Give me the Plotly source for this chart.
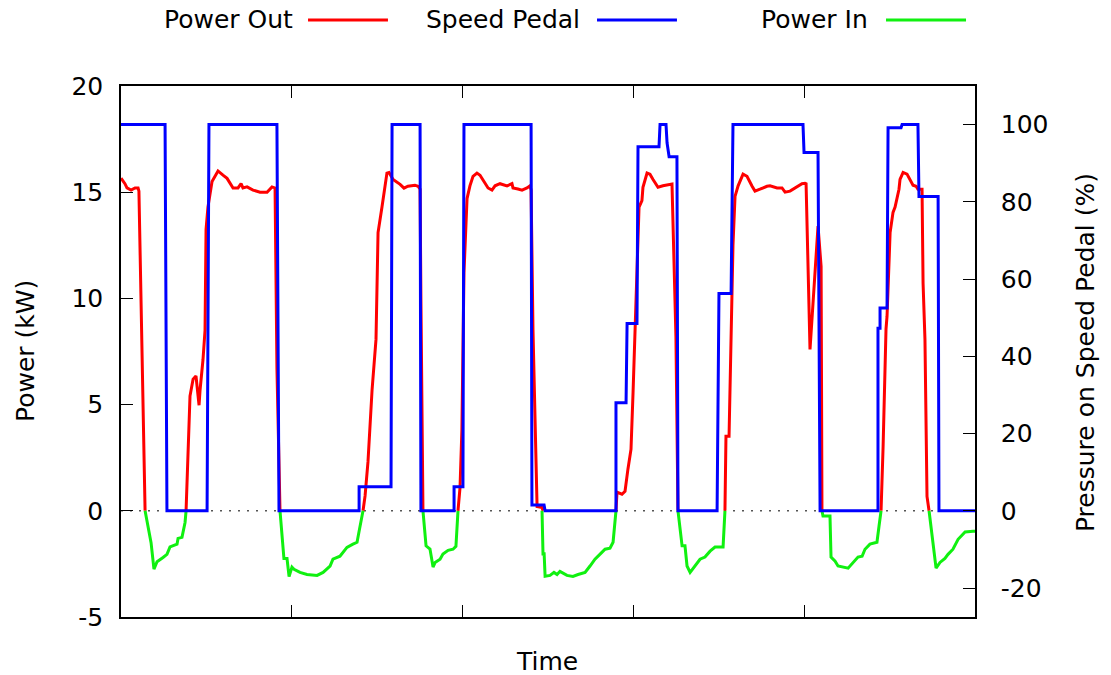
import plotly.graph_objects as go

# ---------------- data (time in s, power in kW, pedal in %) ----------------
out_t = [0, 2.3, 3.5, 5.9, 8.2, 10.0, 10.5, 12.3, 14.1, None,
         38.1, 39.2, 40.4, 42.2, 43.9, 45.7, 46.3, 48.0, 49.2, 49.8, 50.9, 53.3, 55.6, 56.8,
         59.7, 62.1, 65.6, 68.5, 70.3, 71.4, 73.8, 77.3, 81.4, 85.5, 88.4, 90.2, 91.3, 93.1, None,
         141.7, 142.9, 144.6, 147.0, 149.3, 150.5, 152.8, 154.6, 155.7, 156.9, 157.5, 159.3,
         163.4, 165.7, 168.0, 172.1, 173.9, 175.1, 175.6, 176.8, None,
         197.3, 198.5, 199.6, 200.2, 200.8, 202.6, 204.3, 206.1, 208.4, 210.2, 212.5, 214.9,
         217.2, 219.0, 221.9, 226.0, 228.9, 229.5, 232.4, 234.8, 237.7, 239.5, 240.1, 241.2,
         243.6, 246.5, 247.1, None,
         289.8, 290.4, 293.3, 295.1, 296.8, 298.6, 299.8, 300.9, 302.1, 303.3, 305.0, 305.6,
         308.0, 309.7, 311.5, 314.4, 317.3, 319.7, 322.6, 324.9, 326.1, None,
         353.6, 354.2, 356.0, 357.2, 357.7, 358.3, 359.5, 361.3, 364.2, 366.5, 369.5, 371.2,
         374.1, 378.2, 380.0, 384.1, 387.0, 388.8, 391.7, 395.8, 398.7, 400.5, 401.1, 403.4,
         408.1, 409.9, 410.4, None,
         445.0, 446.2, 447.9, 448.5, 450.3, 452.0, 453.2, 454.4, 455.5, 456.1, 457.9, 460.2,
         462.0, 463.7, 465.5, 466.6, 469.0, 469.6, 470.7, 471.9, 473.1]
out_kw = [15.66, 15.4, 15.2, 15.1, 15.2, 15.2, 15.05, 8.07, 0, None,
          0, 2.3, 5.4, 6.2, 6.35, 4.97, 5.7, 7.1, 8.5, 13.25, 14.3, 15.5, 15.8, 16.0,
          15.8, 15.65, 15.2, 15.2, 15.4, 15.2, 15.25, 15.1, 15.0, 15.0, 15.25, 15.2, 6.7, 0, None,
          0, 0.7, 2.3, 5.7, 8.07, 13.1, 14.3, 15.3, 15.9, 15.93, 15.85, 15.6,
          15.37, 15.19, 15.28, 15.33, 15.28, 15.14, 9.96, 0, None,
          0, 1.1, 3.85, 8.55, 11.2, 14.7, 15.3, 15.75, 15.9, 15.8, 15.5, 15.2,
          15.1, 15.3, 15.4, 15.3, 15.4, 15.2, 15.15, 15.1, 15.2, 15.3, 15.1, 8.55,
          0.2, 0.15, 0, None,
          0, 0.88, 0.78, 0.92, 1.96, 2.9, 5.58, 8.55, 12.17, 14.3, 14.6, 15.23,
          15.9, 15.85, 15.6, 15.23, 15.3, 15.33, 15.38, 8.2, 0, None,
          0, 3.51, 3.51, 8.55, 10.3, 12.5, 14.8, 15.3, 15.85, 15.75, 15.28, 15.05,
          15.14, 15.28, 15.3, 15.2, 15.2, 15.0, 15.05, 15.28, 15.4, 15.42, 15.4, 7.6,
          13.4, 11.5, 0, None,
          0, 3.04, 8.55, 9.16, 13.1, 14.05, 14.3, 14.75, 15.14, 15.6, 15.93, 15.85,
          15.6, 15.33, 15.28, 15.14, 15.14, 10.7, 8.07, 0.68, 0]

in_t = [14.1, 17.6, 19.3, 21.1, 24.6, 26.9, 28.7, 32.8, 33.4, 35.7, 37.5, 38.1, None,
        93.1, 94.9, 95.4, 97.2, 98.4, 100.1, 101.3, 104.8, 108.9, 114.8, 118.3, 122.4,
        124.1, 128.2, 132.3, 135.8, 138.2, 139.4, 141.7, None,
        176.8, 178.6, 180.9, 182.7, 183.9, 186.8, 188.5, 191.5, 194.4, 196.1, 197.3, None,
        246.5, 247.1, 247.7, 248.3, 251.2, 253.5, 255.3, 257.0, 261.1, 264.6, 267.6, 271.7,
        274.6, 277.5, 280.5, 283.4, 286.3, 288.1, 289.8, None,
        326.1, 328.5, 330.2, 331.4, 333.2, 336.1, 339.0, 341.9, 344.9, 347.8, 352.5, 353.6, None,
        410.4, 411.0, 415.1, 415.7, 418.1, 419.8, 425.7, 428.6, 431.5, 433.9, 435.6, 438.5,
        442.6, 443.8, 445.0, None,
        473.1, 477.2, 479.5, 482.4, 484.2, 487.1, 490.1, 494.2, 498.8, 500]
in_kw = [0, -1.5, -2.75, -2.4, -2.2, -2.05, -1.7, -1.57, -1.3, -1.25, -0.55, 0, None,
         0, -1.5, -2.25, -2.25, -3.1, -2.65, -2.75, -2.9, -3.0, -3.04, -2.9, -2.6,
         -2.28, -2.14, -1.72, -1.57, -1.48, -0.96, 0, None,
         0, -1.65, -1.8, -2.65, -2.43, -2.28, -2.04, -1.86, -1.81, -1.67, 0, None,
         0, -2.1, -1.95, -3.08, -3.04, -2.9, -3.0, -2.85, -3.04, -3.09, -3.0, -2.9,
         -2.6, -2.28, -2.04, -1.81, -1.76, -1.48, 0, None,
         0, -1.65, -1.65, -2.6, -2.9, -2.6, -2.28, -2.18, -1.9, -1.71, -1.71, 0, None,
         0, -0.25, -0.25, -2.18, -2.37, -2.6, -2.7, -2.43, -2.18, -2.14, -1.81, -1.57,
         -1.48, -0.73, 0, None,
         0, -2.7, -2.43, -2.24, -2.05, -1.81, -1.34, -1.0, -0.96, -0.96]

pedal_t = [0, 25.8, 26.9, 50.4, 51.5, 91.3, 92.5, 139.4, 139.4, 158.1,
           158.7, 175.1, 175.6, 195.0, 195.0, 200.2, 200.8, 240.1, 240.6, 247.7,
           248.3, 289.8, 289.8, 295.7, 296.3, 302.1, 302.7, 315.0, 315.6, 319.1,
           319.7, 320.9, 325.5, 326.1, 349.0, 350.1, 357.2, 358.3, 399.3, 399.9,
           408.1, 409.3, 443.2, 443.2, 444.4, 444.4, 448.5, 449.1, 456.7, 457.3,
           466.6, 467.2, 478.4, 478.9, 500]
pedal_pct = [100, 100, 0, 0, 100, 100, 0, 0, 6.2, 6.2,
             100, 100, 0, 0, 6.2, 6.2, 100, 100, 1.5, 1.5,
             0, 0, 28, 28, 48.5, 48.5, 94.3, 94.3, 100, 100,
             95.3, 91.7, 91.7, 0, 0, 56.3, 56.3, 100, 100, 92.8,
             92.8, 0, 0, 47.3, 47.3, 52.5, 52.5, 99.2, 99.2, 100,
             100, 81.4, 81.4, 0, 0]

series_names = ["Power Out", "Speed Pedal", "Power In"]
series_colors = ["#ff0000", "#0000ff", "#10f010"]

y1_ticks = [-5, 0, 5, 10, 15, 20]
y1_labels = ["-5", "0", "5", "10", "15", "20"]
y2_ticks = [-20, 0, 20, 40, 60, 80, 100]
y2_labels = ["-20", "0", "20", "40", "60", "80", "100"]

# ---------------- figure ----------------
FONT = "DejaVu Sans"
FS = 25

fig = go.Figure()
fig.add_trace(go.Scatter(x=out_t, y=out_kw, mode="lines", name=series_names[0],
                         line=dict(color=series_colors[0], width=3), connectgaps=False))
fig.add_trace(go.Scatter(x=pedal_t, y=pedal_pct, mode="lines", name=series_names[1],
                         line=dict(color=series_colors[1], width=3), yaxis="y2"))
fig.add_trace(go.Scatter(x=in_t, y=in_kw, mode="lines", name=series_names[2],
                         line=dict(color=series_colors[2], width=3), connectgaps=False))

# dotted zero axis
fig.add_shape(type="line", xref="paper", yref="y", x0=0, x1=1, y0=0, y1=0,
              line=dict(color="#555555", width=1.6, dash="2px,7px"), layer="below")

# gnuplot-style key: text then sample line
key_text_right = [0.2037, 0.5398, 0.877]
key_line = [(0.219, 0.3126), (0.5574, 0.651), (0.8958, 0.9895)]
key_y = 1.1243
for name, col, xr, (l0, l1) in zip(series_names, series_colors, key_text_right, key_line):
    fig.add_annotation(text=name, xref="paper", yref="paper", x=xr, y=key_y,
                       xanchor="right", yanchor="middle", showarrow=False,
                       font=dict(family=FONT, size=FS, color="black"))
    fig.add_shape(type="line", xref="paper", yref="paper", x0=l0, x1=l1,
                  y0=key_y, y1=key_y, line=dict(color=col, width=3))

# axis titles
fig.add_annotation(text="Power (kW)", xref="paper", yref="paper", x=-0.1112, y=0.501,
                   textangle=-90, showarrow=False, xanchor="center", yanchor="middle",
                   font=dict(family=FONT, size=FS, color="black"))
fig.add_annotation(text="Pressure on Speed Pedal (%)", xref="paper", yref="paper",
                   x=1.1288, y=0.499, textangle=-90, showarrow=False,
                   xanchor="center", yanchor="middle",
                   font=dict(family=FONT, size=FS, color="black"))
fig.add_annotation(text="Time", xref="paper", yref="paper", x=0.4988, y=-0.0847,
                   showarrow=False, xanchor="center", yanchor="middle",
                   font=dict(family=FONT, size=FS, color="black"))

fig.update_layout(
    width=1111, height=675,
    margin=dict(l=121, r=136, t=86, b=58),
    paper_bgcolor="white", plot_bgcolor="white",
    showlegend=False,
    font=dict(family=FONT, size=FS, color="black"),
    xaxis=dict(range=[0, 500], dtick=100, ticks="inside", ticklen=12, tickwidth=1.2,
               tickcolor="black", showticklabels=False, showgrid=False, zeroline=False,
               showline=True, linecolor="black", linewidth=1.5, mirror="ticks"),
    yaxis=dict(range=[-5, 20], tickvals=y1_ticks, ticktext=y1_labels, ticks="inside",
               ticklen=12, tickwidth=1.2,
               tickcolor="black", showgrid=False, zeroline=False, showline=True,
               linecolor="black", linewidth=1.5, ticklabelstandoff=11,
               tickfont=dict(family=FONT, size=FS, color="black")),
    yaxis2=dict(range=[-27.5, 110], tickvals=y2_ticks, ticktext=y2_labels,
                overlaying="y", side="right", ticks="inside", ticklen=12, tickwidth=1.2,
                tickcolor="black", showgrid=False, zeroline=False, showline=True,
                linecolor="black", linewidth=1.5, ticklabelstandoff=19,
                tickfont=dict(family=FONT, size=FS, color="black")),
)

fig.write_html("out.html")
